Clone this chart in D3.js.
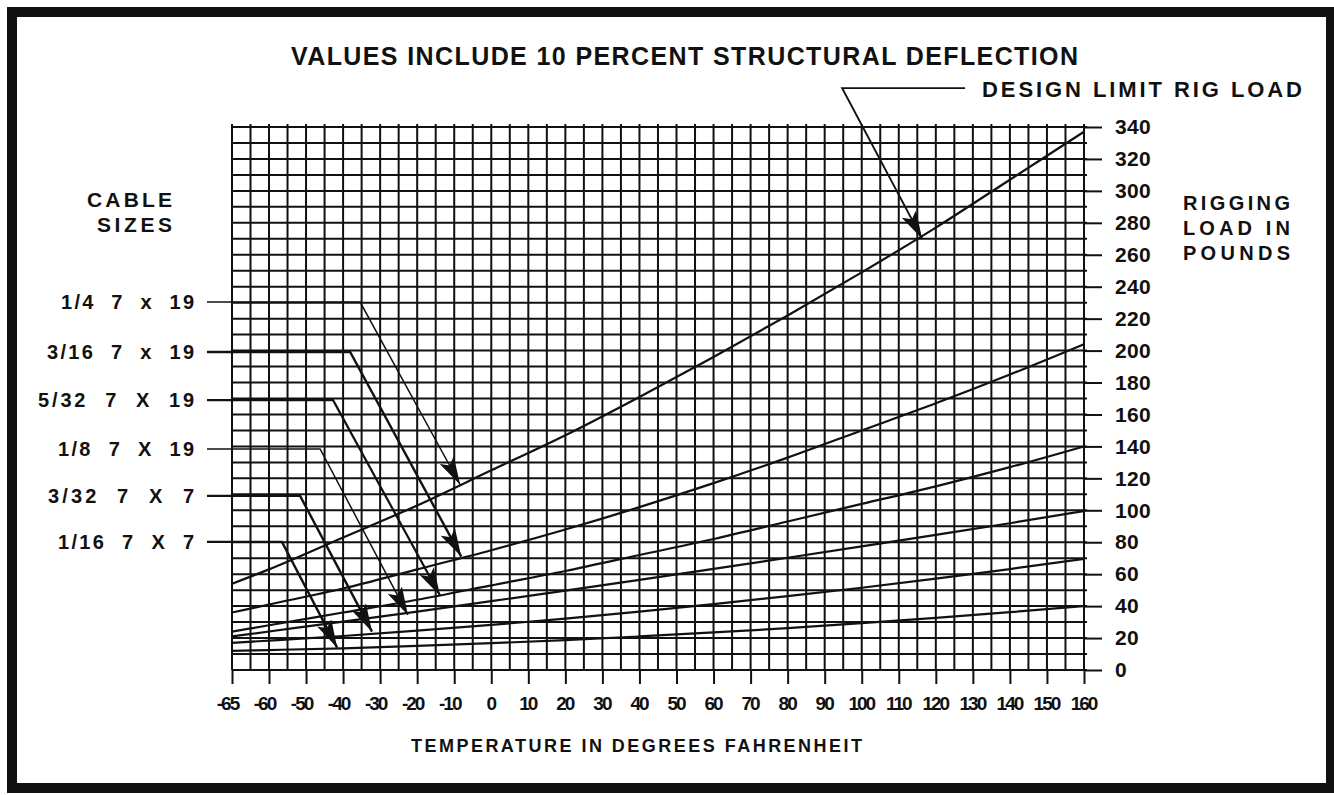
<!DOCTYPE html>
<html><head><meta charset="utf-8">
<script src="https://cdn.jsdelivr.net/npm/d3@7"></script>
<style>
body{margin:0;background:#fff}
svg text{font-family:"Liberation Sans",Arial,Helvetica,sans-serif;fill:#111;font-weight:bold}
</style>
</head><body>
<svg id="c" width="1334" height="795"></svg>
<script>
// ---- data ----
const xTickValues = [-65,-60,-50,-40,-30,-20,-10,0,10,20,30,40,50,60,70,80,90,100,110,120,130,140,150,160];
const xTickLabels = ["-65","-60","-50","-40","-30","-20","-10","0","10","20","30","40","50","60","70","80","90","100","110","120","130","140","150","160"];
const yTickValues = [0,20,40,60,80,100,120,140,160,180,200,220,240,260,280,300,320,340];
const temps = [-65,-60,-40,-20,0,20,40,60,80,100,120,140,160];
const load_1_4  = [54,63,83,103,125,147,171,196,222,249,277,307,337];
const load_3_16 = [36,41,51,63,75,88,102,117,133,150,167,185,204];
const load_5_32 = [24,28,36,44,53,62,72,82,93,104,115,127,140];
const load_1_8  = [21,24.1,30.3,36.6,43.1,49.7,56.4,63.3,70.3,77.4,84.6,91.9,99.5];
const load_3_32 = [17,18.4,21.3,24.6,28.2,32.2,36.5,41.3,46.2,51.5,57.2,63.2,69.6];
const load_1_16 = [12,12.5,13.6,15.1,16.8,18.7,21,23.5,26.2,29.3,32.6,36.2,40];
const cableLabels = ["1/4  7  x  19","3/16  7  x  19","5/32  7  X  19","1/8  7  X  19","3/32  7  X  7","1/16  7  X  7"];
const cableLabelWidths = [133,147,156,136,146,136];
// leader: label load level, elbow temperature, arrow tip (temp, load)
const labelLoad = [230.4,199.1,169,138.4,109,80.2];
const elbowTemp = [-35.4,-38.1,-42.7,-46.2,-51.6,-56.5];
const tipTemp   = [-8.4,-8.1,-13.8,-22.5,-32.2,-41.6];
const tipLoad   = [116,71,46.5,34.5,24,14];
const leaderWidth = [1.5,2.4,2.2,1.5,2.4,2.4];
const designLabel = "DESIGN LIMIT RIG LOAD";
const designLeader = {labelLoad:364.4, elbowTemp:94.7, endTemp:127.9, tipTemp:116.3, tipLoad:270};

const series = [load_1_4,load_3_16,load_5_32,load_1_8,load_3_32,load_1_16];

// ---- scales ----
const svg = d3.select("#c");
const x = d3.scaleLinear().domain([-65,-60,160]).range([232,269,1084]);
const y = d3.scaleLinear().domain([0,340]).range([670,127]);
const FONT = "'Liberation Sans',Arial,sans-serif";

// frame
svg.append("rect").attr("x",12).attr("y",12).attr("width",1319).attr("height",776)
  .attr("fill","none").attr("stroke","#111").attr("stroke-width",10);

const g = svg.append("g").attr("stroke","#111").attr("fill","none");
const vgrid = [-65,-62.5].concat(d3.range(-60,161,5));
g.selectAll(".vg").data(vgrid).join("line")
  .attr("x1",d=>x(d)).attr("x2",d=>x(d)).attr("y1",y(340)-3).attr("y2",y(0))
  .attr("stroke-width",2);
g.selectAll(".hg").data(d3.range(0,341,10)).join("line")
  .attr("x1",x(-65)).attr("x2",x(160)+3).attr("y1",d=>y(d)).attr("y2",d=>y(d))
  .attr("stroke-width",2);

// bottom axis
const xAxis = d3.axisBottom(x).tickValues(xTickValues)
  .tickFormat((d,i)=>xTickLabels[i]).tickSize(14).tickPadding(13);
const xa = svg.append("g").attr("transform",`translate(0,${y(0)})`).call(xAxis);
xa.select(".domain").remove();
xa.selectAll(".tick line").attr("stroke","#111").attr("stroke-width",2);
xa.selectAll(".tick text").attr("font-size",19).attr("letter-spacing",-2)
  .attr("dx",d=>d<0?-5:-1).attr("font-family",FONT).attr("font-weight","bold");

// right axis
const yAxis = d3.axisRight(y).tickValues(yTickValues).tickSize(18).tickPadding(13);
const ya = svg.append("g").attr("transform",`translate(${x(160)},0)`).call(yAxis);
ya.select(".domain").remove();
ya.selectAll(".tick line").attr("stroke","#111").attr("stroke-width",2);
ya.selectAll(".tick text").attr("font-size",21).attr("letter-spacing",0.3)
  .attr("font-family",FONT).attr("font-weight","bold");

// curves
const line = d3.line().x((d,i)=>x(temps[i])).y(d=>y(d)).curve(d3.curveMonotoneX);
svg.append("g").selectAll("path").data(series).join("path")
  .attr("d",d=>line(d)).attr("fill","none").attr("stroke","#111").attr("stroke-width",2.2);

// arrow marker
svg.append("defs").append("marker").attr("id","ah").attr("markerUnits","userSpaceOnUse")
  .attr("viewBox","0 0 28 16").attr("refX",28).attr("refY",8)
  .attr("markerWidth",28).attr("markerHeight",16).attr("orient","auto")
  .append("path").attr("d","M0,0 L28,8 L0,16 L6,8 Z").attr("fill","#111");

// cable labels and leaders
const labX = 194;
cableLabels.forEach((t,i)=>{
  const ly = y(labelLoad[i]);
  svg.append("text").attr("x",labX - cableLabelWidths[i]).attr("y",ly+7)
    .attr("font-size",20).attr("textLength",cableLabelWidths[i]).attr("lengthAdjust","spacing")
    .attr("xml:space","preserve").text(t);
  svg.append("path").attr("fill","none").attr("stroke","#111").attr("stroke-width",leaderWidth[i])
    .attr("d",`M${labX+13},${ly} L${x(elbowTemp[i])},${ly} L${x(tipTemp[i])},${y(tipLoad[i])}`)
    .attr("marker-end","url(#ah)");
});

// design limit leader
{
  const ly = y(designLeader.labelLoad);
  svg.append("path").attr("fill","none").attr("stroke","#111").attr("stroke-width",1.8)
    .attr("d",`M${x(designLeader.endTemp)},${ly} L${x(designLeader.elbowTemp)},${ly} L${x(designLeader.tipTemp)},${y(designLeader.tipLoad)}`)
    .attr("marker-end","url(#ah)");
  svg.append("text").attr("x",982).attr("y",ly+9).attr("font-size",22)
    .attr("textLength",320).attr("lengthAdjust","spacing").text(designLabel);
}

// titles
svg.append("text").attr("x",291).attr("y",65).attr("font-size",25)
  .attr("textLength",787).attr("lengthAdjust","spacing")
  .text("VALUES INCLUDE 10 PERCENT STRUCTURAL DEFLECTION");
svg.append("text").attr("x",87).attr("y",207).attr("font-size",21)
  .attr("textLength",85).attr("lengthAdjust","spacing").text("CABLE");
svg.append("text").attr("x",97).attr("y",232).attr("font-size",21)
  .attr("textLength",75).attr("lengthAdjust","spacing").text("SIZES");
["RIGGING","LOAD IN","POUNDS"].forEach((t,i)=>{
  svg.append("text").attr("x",1183).attr("y",210+i*25).attr("font-size",20)
    .attr("textLength",107).attr("lengthAdjust","spacing").text(t);
});
svg.append("text").attr("x",411).attr("y",752).attr("font-size",18)
  .attr("textLength",451).attr("lengthAdjust","spacing")
  .text("TEMPERATURE IN DEGREES FAHRENHEIT");
</script>
</body></html>
